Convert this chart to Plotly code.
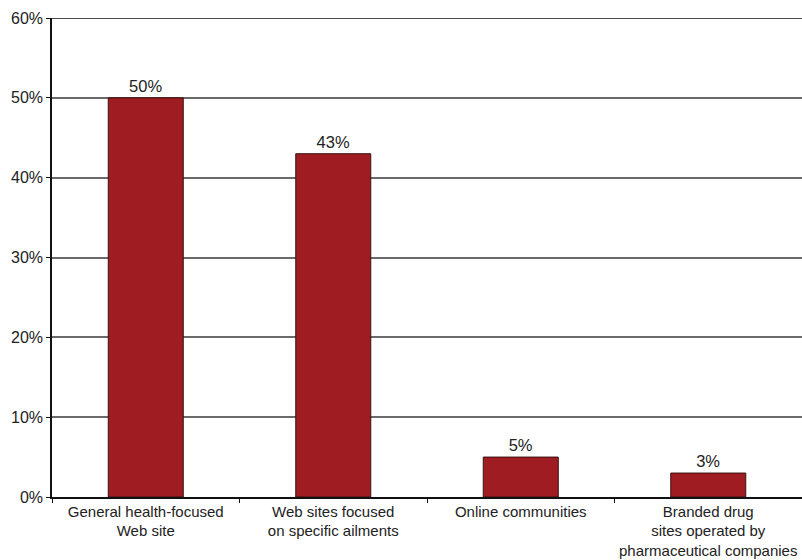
import plotly.graph_objects as go

categories = [
    "General health-focused<br>Web site",
    "Web sites focused<br>on specific ailments",
    "Online communities",
    "Branded drug<br>sites operated by<br>pharmaceutical companies",
]
values = [50, 43, 5, 3]
labels = ["50%", "43%", "5%", "3%"]

fig = go.Figure()
fig.add_trace(go.Bar(
    x=categories, y=values, text=labels, textposition="outside",
    textfont=dict(family="Liberation Sans, Arial", size=16.5, color="#222"),
    marker=dict(color="#9e1c22", line=dict(color="#3a1010", width=1)),
    width=0.4, cliponaxis=False,
))
fig.update_layout(
    width=802, height=560,
    margin=dict(l=52, r=0, t=18, b=63),
    plot_bgcolor="white", paper_bgcolor="white",
    showlegend=False,
    font=dict(family="Liberation Sans, Arial", size=15, color="#222"),
)
fig.update_xaxes(
    type="category", showline=True, linecolor="#111", linewidth=1.5,
    ticks="outside", tickson="boundaries", ticklen=4, tickcolor="#111",
    showgrid=False, tickfont=dict(size=15, color="#222"),
    tickangle=0, automargin=False,
)
fig.update_yaxes(
    range=[0, 60], dtick=10, ticksuffix="%",
    showline=True, linecolor="#111", linewidth=1.5,
    ticks="outside", ticklen=4, tickcolor="#111",
    showgrid=True, gridcolor="#6a6a6a", gridwidth=1.5,
    zeroline=False, tickfont=dict(size=16, color="#222"),
    automargin=False,
)
fig.add_shape(type="line", xref="paper", yref="y", x0=0, x1=1, y0=60, y1=60,
              line=dict(color="#111", width=1.5))
fig.write_html("out.html")
